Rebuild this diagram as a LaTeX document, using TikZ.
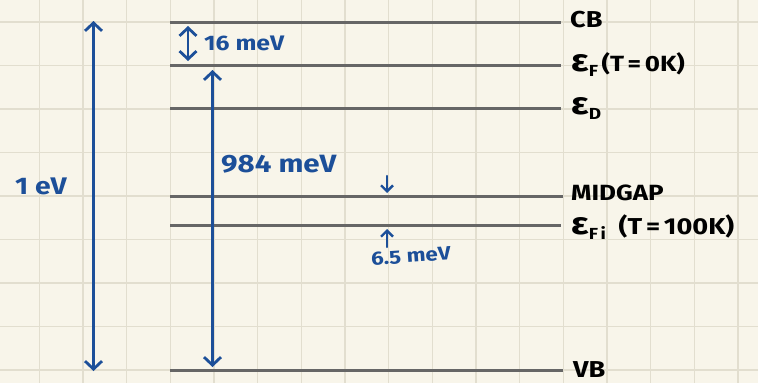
\documentclass[tikz,border=0pt]{standalone}
\usepackage{fontspec}
\setmainfont{Fira Sans}[FakeStretch=1.18]
\usetikzlibrary{arrows.meta}
\definecolor{paper}{HTML}{F8F5EA}
\definecolor{gridc}{HTML}{E2DECF}
\definecolor{levelc}{HTML}{666666}
\definecolor{penblue}{HTML}{1C4F99}
\newcommand{\bigeps}{{\fontsize{31}{31}\selectfont ε}}
\newcommand{\subsc}[1]{\raisebox{-5pt}{\fontsize{16}{16}\selectfont #1}}
\tikzset{
  gridline/.style={draw=gridc, line width=1.3pt},
  level/.style={draw=levelc, line width=3pt},
  bluearrow/.style={draw=penblue, line width=2.8pt, line cap=round,
    arrows={Straight Barb[width=17pt,length=8pt,line width=2.8pt]-Straight Barb[width=17pt,length=8pt,line width=2.8pt]}},
  smallarrow/.style={draw=penblue, line width=2.4pt, line cap=round,
    -{Straight Barb[width=12pt,length=6pt,line width=2.4pt]}},
  lbl/.style={anchor=west, inner sep=0pt, text=black, font=\fontsize{22}{24}\selectfont\bfseries},
  bluelbl/.style={anchor=west, inner sep=0pt, text=penblue},
}
\begin{document}
\begin{tikzpicture}[x=1pt,y=-1pt]
\useasboundingbox[fill=paper] (0,0) rectangle (758,383);
% grid
\foreach \i in {0,...,16} {
  \draw[gridline] ({39.2+43.68*\i},0) -- ({39.2+43.68*\i},383);
}
\foreach \j in {0,...,8} {
  \draw[gridline] (0,{22+43.5*\j}) -- (758,{22+43.5*\j});
}
% level coordinates
\coordinate (cbL) at (170,22);   \coordinate (cbR) at (561,22);
\coordinate (efL) at (170,65.3); \coordinate (efR) at (561,65.3);
\coordinate (edL) at (170,108.7);\coordinate (edR) at (561,108.7);
\coordinate (mgL) at (170,196);  \coordinate (mgR) at (563,196);
\coordinate (fiL) at (170,225);  \coordinate (fiR) at (561,225);
\coordinate (vbL) at (170,370);  \coordinate (vbR) at (563,370);
\draw[level] (cbL) -- (cbR);
\draw[level] (efL) -- (efR);
\draw[level] (edL) -- (edR);
\draw[level] (mgL) -- (mgR);
\draw[level] (fiL) -- (fiR);
\draw[level] (vbL) -- (vbR);
% level labels
\node[lbl, font=\fontsize{23}{26}\selectfont\bfseries] (cb) at (570,20) {CB};
\node[lbl] (ef) at (571,65) {\bigeps\subsc{F}\,(T\,=\,0K)};
\node[lbl] (ed) at (571,109) {\bigeps\subsc{D}};
\node[lbl] (mg) at (571,193) {MIDGAP};
\node[lbl, font=\fontsize{23}{26}\selectfont\bfseries] (fi) at (571,227) {\bigeps\subsc{F\,i}\;\;(T\,=\,100K)};
\node[lbl, font=\fontsize{23}{26}\selectfont\bfseries] (vb) at (573,370) {VB};
% 1 eV arrow
\coordinate (evT) at (93.5,21);
\coordinate (evB) at (93.5,371);
\draw[bluearrow] (evT) -- (evB);
\node[bluelbl, font=\fontsize{24}{26}\selectfont\bfseries] (ev) at (15,186) {1 eV};
% 984 meV arrow
\coordinate (mT) at (212.5,70);
\coordinate (mB) at (212.5,367);
\draw[bluearrow] (mT) -- (mB);
\node[bluelbl, font=\fontsize{25}{28}\selectfont\bfseries] (m984) at (221,164) {984 meV};
% 16 meV arrow
\coordinate (sT) at (188,26);
\coordinate (sB) at (188,61);
\draw[bluearrow] (sT) -- (sB);
\node[bluelbl, font=\fontsize{21}{23}\selectfont\bfseries] (m16) at (204,43) {16 meV};
% 6.5 meV arrows
\coordinate (dA) at (387,176);
\coordinate (dB) at (387,193);
\draw[smallarrow] (dA) -- (dB);
\coordinate (uA) at (387,247);
\coordinate (uB) at (387,229);
\draw[smallarrow] (uA) -- (uB);
\node[bluelbl, font=\fontsize{19}{21}\selectfont\bfseries, rotate=4] (m65) at (371,259) {6.5 meV};
\end{tikzpicture}
\end{document}
